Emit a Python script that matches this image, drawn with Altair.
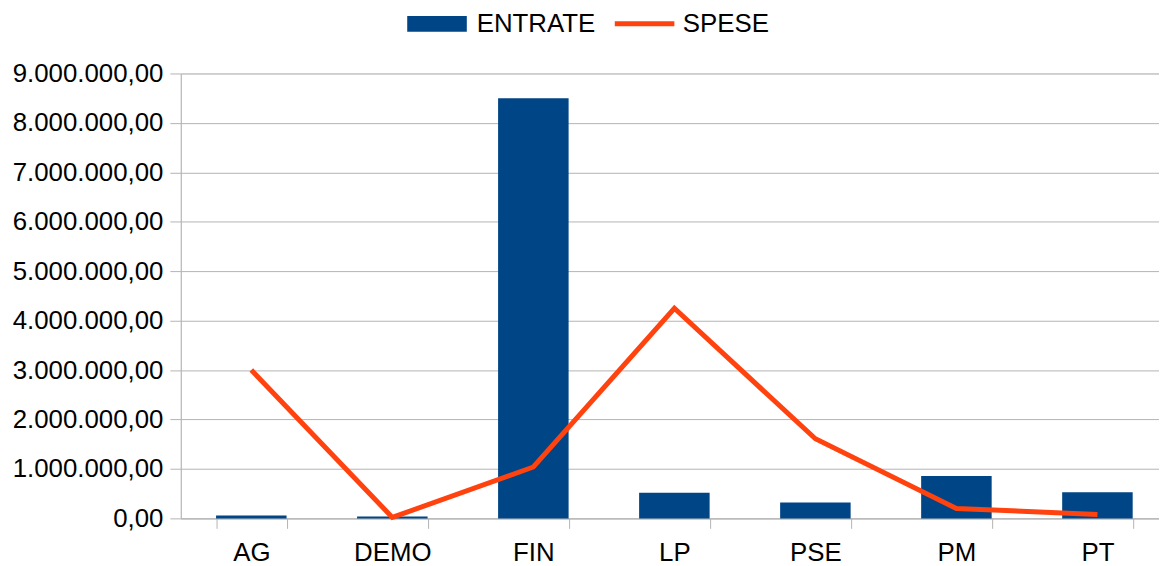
import altair as alt
import pandas as pd

categorie = ["AG", "DEMO", "FIN", "LP", "PSE", "PM", "PT"]
entrate = [60000, 40000, 8500000, 520000, 320000, 860000, 530000]
spese = [3000000, 20000, 1040000, 4250000, 1610000, 200000, 80000]

df = pd.DataFrame({
    "cat": categorie,
    "entrate": entrate,
    "spese": spese,
    "s1": ["ENTRATE"] * len(categorie),
    "s2": ["SPESE"] * len(categorie),
})

FONT = "Liberation Sans"
FS = 26

x = alt.X(
    "cat:N", sort=None, title=None,
    scale=alt.Scale(paddingInner=0.5, paddingOuter=0.25, range=[0, 994]),
    axis=alt.Axis(labelAngle=0, tickBand="extent", tickSize=10, labelPadding=11,
                  domainColor="#b3b3b3", tickColor="#b3b3b3", labelColor="#000000",
                  labelFont=FONT, labelFontSize=FS, grid=False),
)
yscale = alt.Scale(domain=[0, 9000000])

bars = alt.Chart(df).mark_bar().encode(
    x=x,
    y=alt.Y("entrate:Q", scale=yscale, title=None,
            axis=alt.Axis(values=[i * 1000000 for i in range(10)],
                          labelExpr="join(split(format(datum.value, ',d'), ','), '.') + ',00'",
                          tickSize=11, labelPadding=7, gridColor="#b3b3b3",
                          domainColor="#b3b3b3", tickColor="#b3b3b3", labelColor="#000000",
                          labelFont=FONT, labelFontSize=FS)),
    color=alt.Color("s1:N", scale=alt.Scale(domain=["ENTRATE"], range=["#004586"]),
                    legend=alt.Legend(title=None, orient="none", legendX=220, legendY=-88,
                                      symbolType="stroke", symbolSize=3600,
                                      symbolStrokeWidth=16, symbolStrokeColor="#004586",
                                      labelFont=FONT, labelFontSize=FS, labelColor="#000000",
                                      labelOffset=2)),
)

line = alt.Chart(df).mark_line(strokeWidth=5, strokeJoin="miter", strokeCap="butt").encode(
    x=x,
    y=alt.Y("spese:Q", scale=yscale),
    color=alt.Color("s2:N", scale=alt.Scale(domain=["SPESE"], range=["#FF420E"]),
                    legend=alt.Legend(title=None, orient="none", legendX=434.5, legendY=-82.5,
                                      symbolType="stroke", symbolSize=3600,
                                      symbolStrokeWidth=5,
                                      labelFont=FONT, labelFontSize=FS, labelColor="#000000",
                                      labelOffset=6)),
)

chart = alt.layer(bars, line).resolve_scale(color="independent").properties(
    width=985, height=448,
    autosize=alt.AutoSizeParams(type="none"),
    padding={"left": 174, "top": 64, "right": 0, "bottom": 46},
).configure_view(stroke=None).configure(background="#ffffff")

chart.save("out.html", embed_options={"renderer": "svg", "actions": False})
